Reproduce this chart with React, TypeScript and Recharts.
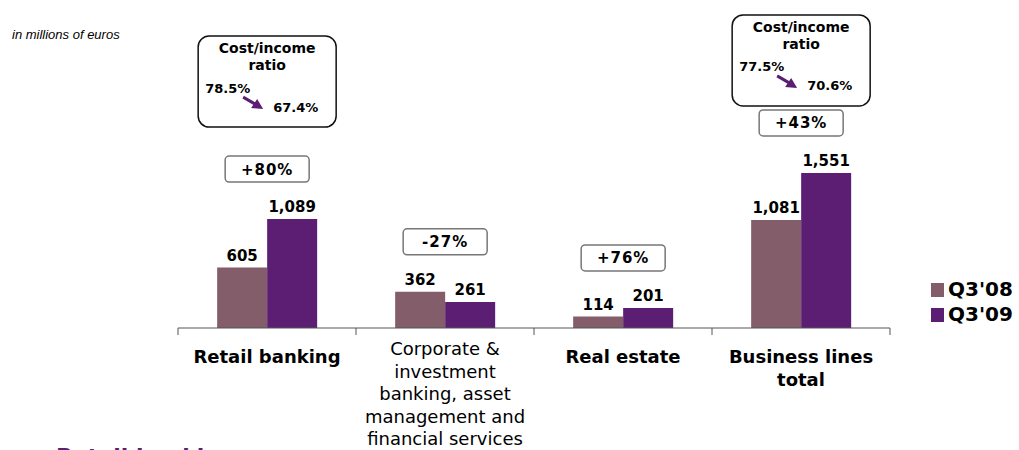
import React from "react";
import { BarChart, Bar, XAxis, YAxis, LabelList } from "recharts";

// in millions of euros
const categories = ["Retail banking", "Corporate & investment banking, asset management and financial services", "Real estate", "Business lines total"];
const categoryLines = [
  ["Retail banking"],
  ["Corporate &", "investment", "banking, asset", "management and", "financial services"],
  ["Real estate"],
  ["Business lines", "total"],
];
const boldCategory = [true, false, true, true];
const seriesNames = ["Q3'08", "Q3'09"];
const q308 = [605, 362, 114, 1081];
const q309 = [1089, 261, 201, 1551];
const changeLabels = ["+80%", "-27%", "+76%", "+43%"];
const ratioBefore = ["78.5%", null, null, "77.5%"];
const ratioAfter = ["67.4%", null, null, "70.6%"];

const C08 = "#845d6a";
const C09 = "#5b1e72";
const FONT = "'DejaVu Sans', Verdana, sans-serif";

const W = 1019;
const H = 450;
const M = { top: 18, right: 129, bottom: 92, left: 178 };
const BAND = (W - M.left - M.right) / categories.length;
// space between the change box and the cost/income box above it
const RATIO_GAP = [29, 0, 0, 4];

const data = categories.map((name, i) => ({ name, i, q308: q308[i], q309: q309[i] }));

const fmt = (v: number) => v.toLocaleString("en-US");

function CategoryTick(props: any) {
  const { x, y, index } = props;
  const lines = categoryLines[index];
  const bold = boldCategory[index];
  return (
    <g>
      <line x1={x - BAND / 2} x2={x - BAND / 2} y1={y} y2={y + 7} stroke="#555" strokeWidth={1} />
      {index === categories.length - 1 && (
        <line x1={x + BAND / 2} x2={x + BAND / 2} y1={y} y2={y + 7} stroke="#555" strokeWidth={1} />
      )}
      {lines.map((l, k) => (
        <text
          key={k}
          x={x}
          y={y + (bold ? 30 : 22) + k * 22.5}
          textAnchor="middle"
          dominantBaseline="middle"
          fontFamily={FONT}
          fontSize={18}
          fontWeight={bold ? "bold" : "normal"}
          fill="#000"
        >
          {l}
        </text>
      ))}
    </g>
  );
}

function ValueLabel(props: any) {
  const { x, y, width, value } = props;
  return (
    <text x={x + width / 2} y={y - 7} textAnchor="middle" fontFamily={FONT} fontSize={15} fontWeight="bold" fill="#000">
      {fmt(value)}
    </text>
  );
}

function Annotations(props: any) {
  const { x, y, height, index } = props;
  const v09 = q309[index];
  const v08 = q308[index];
  const top08 = y + height - (height * v08) / v09;
  const topMax = Math.min(y, top08);
  const cx = x;
  const boxW = 84;
  const boxH = 26;
  const boxBottom = topMax - 37;
  const boxTop = boxBottom - boxH;
  const hasRatio = ratioBefore[index] != null;
  const cH = 91;
  const cW = 138;
  const cTop = boxTop - RATIO_GAP[index] - cH;
  return (
    <g>
      <rect x={cx - boxW / 2} y={boxTop} width={boxW} height={boxH} rx={4} ry={4} fill="#fff" stroke="#777" strokeWidth={1.5} />
      <text x={cx} y={boxTop + boxH / 2 + 1} textAnchor="middle" dominantBaseline="middle" fontFamily={FONT} fontSize={15} fontWeight={600} letterSpacing={1} fill="#000">
        {changeLabels[index]}
      </text>
      {hasRatio && (
        <g>
          <rect x={cx - cW / 2} y={cTop} width={cW} height={cH} rx={11} ry={11} fill="#fff" stroke="#111" strokeWidth={1.5} />
          <text x={cx} y={cTop + 13} textAnchor="middle" dominantBaseline="middle" fontFamily={FONT} fontSize={14} fontWeight="bold" fill="#000">
            Cost/income
          </text>
          <text x={cx} y={cTop + 30} textAnchor="middle" dominantBaseline="middle" fontFamily={FONT} fontSize={14} fontWeight="bold" fill="#000">
            ratio
          </text>
          <text x={cx - 62} y={cTop + 53} dominantBaseline="middle" fontFamily={FONT} fontSize={13} fontWeight="bold" fill="#000">
            {ratioBefore[index]}
          </text>
          <line x1={cx - 24} y1={cTop + 61} x2={cx - 12} y2={cTop + 68} stroke={C09} strokeWidth={3} />
          <polygon points={`${cx - 4},${cTop + 73} ${cx - 16},${cTop + 72} ${cx - 10},${cTop + 63}`} fill={C09} />
          <text x={cx + 6} y={cTop + 72} dominantBaseline="middle" fontFamily={FONT} fontSize={13} fontWeight="bold" fill="#000">
            {ratioAfter[index]}
          </text>
        </g>
      )}
    </g>
  );
}

function LegendBox() {
  const colors = [C08, C09];
  return (
    <div style={{ position: "absolute", left: 931, top: 277, fontFamily: FONT }}>
      {seriesNames.map((label, k) => (
        <div key={label} style={{ display: "flex", alignItems: "center", height: 25 }}>
          <span style={{ display: "inline-block", width: 13, height: 14, background: colors[k], marginRight: 4 }} />
          <span style={{ fontSize: 20, fontWeight: "bold", color: "#000", lineHeight: "25px" }}>{label}</span>
        </div>
      ))}
    </div>
  );
}

export default function App() {
  return (
    <div style={{ position: "absolute", left: 0, top: 0, width: W, height: H, overflow: "hidden", background: "#fff" }}>
      <BarChart width={W} height={H} data={data} margin={M} barCategoryGap="22%" barGap={0}>
        <XAxis
          dataKey="name"
          interval={0}
          height={30}
          tick={<CategoryTick />}
          tickLine={false}
          tickSize={0}
          tickMargin={0}
          axisLine={{ stroke: "#555", strokeWidth: 1 }}
        />
        <YAxis hide domain={[0, 3100]} />
        <Bar dataKey="q308" name={seriesNames[0]} fill={C08} isAnimationActive={false}>
          <LabelList dataKey="q308" content={<ValueLabel />} />
        </Bar>
        <Bar dataKey="q309" name={seriesNames[1]} fill={C09} isAnimationActive={false}>
          <LabelList dataKey="q309" content={<ValueLabel />} />
          <LabelList dataKey="q309" content={<Annotations />} />
        </Bar>
      </BarChart>
      <LegendBox />
      <svg width={W} height={H} style={{ position: "absolute", left: 0, top: 0, pointerEvents: "none" }}>
        <text x={12} y={39} fontFamily="'Liberation Sans', Arial, sans-serif" fontStyle="italic" fontSize={13} fill="#000">
          in millions of euros
        </text>
        <text x={56} y={464} fontFamily={FONT} fontSize={22} fontWeight="bold" fill={C09}>
          Retail banking
        </text>
      </svg>
    </div>
  );
}
